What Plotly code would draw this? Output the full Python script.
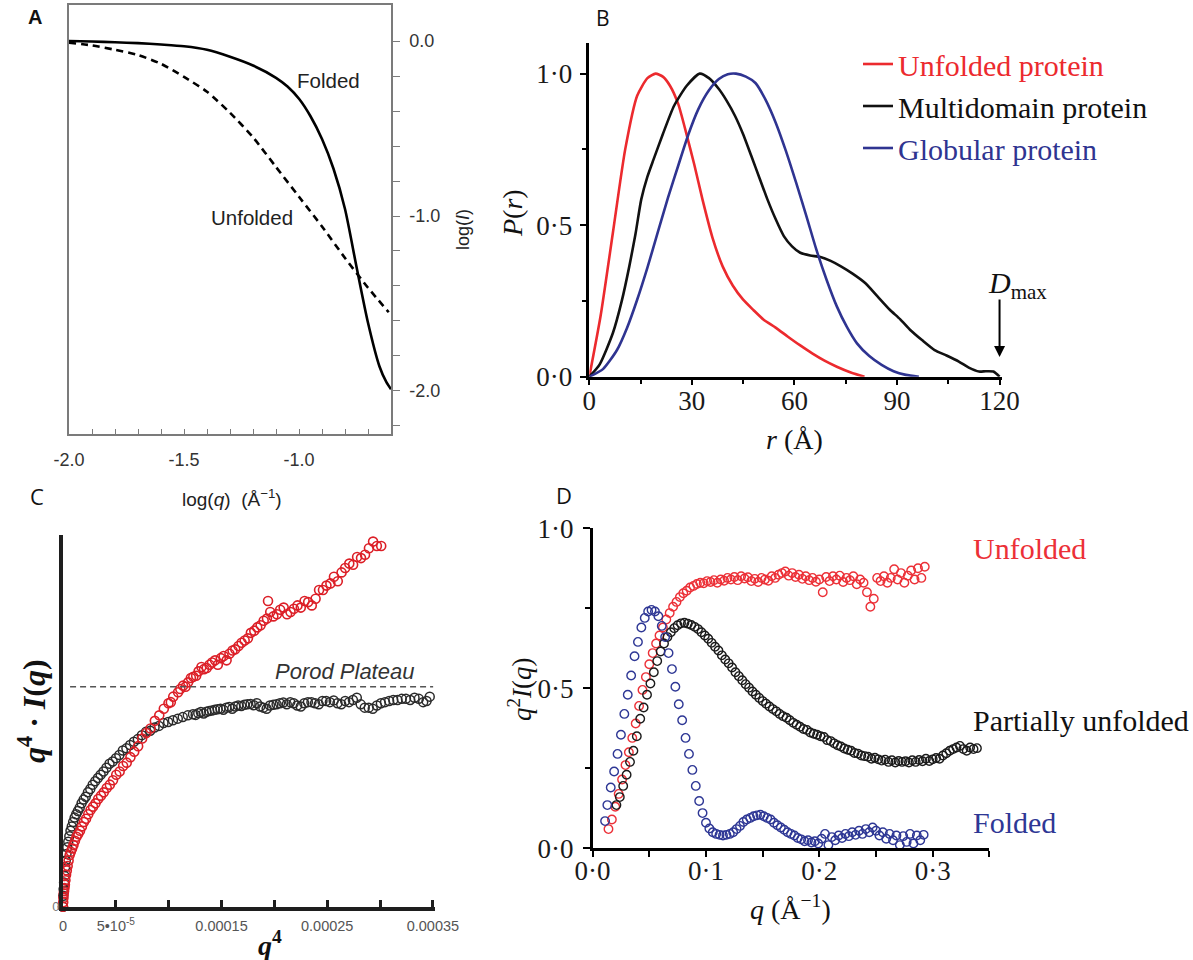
import plotly.graph_objects as go

W, H = 1193, 960
SERIF = "Liberation Serif"
SANS = "Liberation Sans"

# ---------------- Panel A : log(I) vs log(q) ----------------
A_LOGQ_FOLDED = [-2.0, -1.9, -1.8, -1.7, -1.6, -1.5, -1.4, -1.3, -1.2, -1.1, -1.05, -1.0,
                 -0.95, -0.9, -0.85, -0.8, -0.75, -0.7, -0.65, -0.62, -0.6]
A_LOGI_FOLDED = [0.0, -0.003, -0.007, -0.012, -0.02, -0.03, -0.05, -0.09, -0.14, -0.21, -0.26, -0.33,
                 -0.43, -0.56, -0.73, -0.96, -1.29, -1.61, -1.86, -1.95, -1.99]
A_LOGQ_UNFOLDED = [-2.0, -1.9, -1.8, -1.7, -1.6, -1.5, -1.4, -1.3, -1.2, -1.1, -1.0, -0.9, -0.8, -0.7, -0.61]
A_LOGI_UNFOLDED = [-0.01, -0.025, -0.05, -0.08, -0.13, -0.205, -0.29, -0.41, -0.55, -0.72, -0.89,
                   -1.06, -1.24, -1.41, -1.55]
A_XTICKS = [-2.0, -1.5, -1.0]
A_XTICKTEXT = ["-2.0", "-1.5", "-1.0"]
A_XMINOR = [-1.9, -1.8, -1.7, -1.6, -1.4, -1.3, -1.2, -1.1, -0.9, -0.8, -0.7]
A_YTICKS = [0.0, -1.0, -2.0]
A_YTICKTEXT = ["0.0", "-1.0", "-2.0"]
A_YMINOR = [-0.2, -0.4, -0.6, -0.8, -1.2, -1.4, -1.6, -1.8, -2.2]

# ---------------- Panel B : P(r) ----------------
B_R_UNFOLDED = [0, 3.3, 6.9, 10.5, 14, 17, 19.4, 21.5, 23.6, 26, 28.3, 30.7, 33.1, 36, 39, 42, 45, 48,
                51, 54.5, 58.1, 61.6, 65.2, 68.8, 72.4, 76.5, 80.5]
B_P_UNFOLDED = [0, 0.2, 0.475, 0.75, 0.927, 0.985, 1.0, 0.99, 0.96, 0.9, 0.806, 0.7, 0.585, 0.46, 0.364,
                0.3, 0.254, 0.22, 0.188, 0.162, 0.132, 0.104, 0.077, 0.053, 0.033, 0.014, 0.0]
B_R_MULTI = [0, 3, 6.9, 9.5, 11.7, 13.5, 15.2, 17, 18.8, 21.5, 24.8, 28.5, 32.3, 35, 37.9, 40.2, 42.6, 45,
             47.4, 49.8, 52.1, 54.5, 56.9, 59.3, 61.7, 64.6, 67.6, 70.6, 73.6, 77, 80.7, 84.3, 87.9, 90.9,
             93.8, 97.4, 101, 104.5, 108.1, 111, 114, 116, 118.2, 120]
B_P_MULTI = [0, 0.04, 0.144, 0.25, 0.364, 0.47, 0.585, 0.66, 0.717, 0.8, 0.894, 0.96, 1.0, 0.985, 0.949,
             0.91, 0.861, 0.8, 0.728, 0.655, 0.585, 0.52, 0.464, 0.43, 0.409, 0.4, 0.395, 0.382, 0.364,
             0.34, 0.309, 0.265, 0.221, 0.19, 0.155, 0.12, 0.088, 0.07, 0.05, 0.03, 0.017, 0.018, 0.017, 0.0]
B_R_GLOBULAR = [0, 4, 8.1, 11, 14, 17, 20, 23, 26, 29, 31.9, 35, 37.9, 40.5, 42.9, 45.8, 48.6, 51.5, 54.5,
                57.5, 60.5, 63.5, 66.4, 69.4, 72.4, 75.3, 78.3, 81.9, 85.5, 89, 92.6, 96.4]
B_P_GLOBULAR = [0, 0.025, 0.088, 0.16, 0.254, 0.36, 0.475, 0.59, 0.696, 0.8, 0.883, 0.945, 0.982, 0.998,
                1.0, 0.99, 0.969, 0.915, 0.839, 0.745, 0.64, 0.53, 0.42, 0.32, 0.232, 0.165, 0.11, 0.068,
                0.039, 0.018, 0.006, 0.0]
B_NAMES = ["Unfolded protein", "Multidomain protein", "Globular protein"]
B_XTICKS = [0, 30, 60, 90, 120]
B_XMINOR = [15, 45, 75, 105]
B_YTICKS = [0, 0.5, 1.0]
B_YTICKTEXT = ["0\u00b70", "0\u00b75", "1\u00b70"]
B_YMINOR = [0.25, 0.75]
D_MAX = 120
D_MAX_ARROW_TIP = 0.065

# ---------------- Panel C : Porod plot (q^4 in units of 1e-6) ----------------
C_Q4_FOLDED_E6 = [0, 0.3, 0.6, 1.0, 1.5, 2.0, 2.6, 3.3, 4.1, 5.0, 6.0, 7.1, 8.3, 9.6, 11.0, 12.5, 14.1, 15.8,
                  17.6, 19.5, 21.5, 23.6, 25.8, 28.1, 30.5, 33.0, 35.6, 38.3, 41.1, 44.0, 47.0, 50.1, 53.3,
                  56.6, 60.0, 63.5, 67.1, 70.8, 74.6, 78.5, 82.5, 86.6, 90.8, 95.1, 99.5, 104, 108.6, 113.3,
                  118.1, 123, 128, 133.1, 138.3, 143.6, 149, 154.5, 160.1, 165.8, 171.6, 177.5, 183.5,
                  189.6, 195.8, 202.1, 208.5, 215, 221.6, 228.3, 235.1, 242, 249, 256.1, 263.3, 270.6, 278,
                  285.5, 293.1, 300.8, 308.6, 316.5, 324.5, 332.6, 340.8, 347,
                  125.5, 130.5, 135.7, 141, 146.3, 151.7, 157.3, 163, 168.7, 174.5, 180.5, 186.5, 192.7,
                  199, 205.3, 211.7, 218.3, 225, 231.7, 238.5, 245.5, 252.5, 259.7, 267, 274.3, 281.7,
                  289.3, 297, 304.7, 312.5, 320.5, 328.5, 336.7, 344]
C_I_FOLDED = [0.0, 0.05, 0.08, 0.11, 0.14, 0.18, 0.21, 0.24, 0.27, 0.295, 0.32, 0.345, 0.365, 0.385, 0.405,
              0.42, 0.435, 0.45, 0.47, 0.487, 0.5, 0.52, 0.535, 0.555, 0.57, 0.585, 0.6, 0.615, 0.632, 0.65,
              0.66, 0.675, 0.69, 0.71, 0.72, 0.735, 0.75, 0.762, 0.78, 0.795, 0.8, 0.815, 0.822, 0.835,
              0.84, 0.848, 0.855, 0.862, 0.87, 0.875, 0.88, 0.878, 0.89, 0.895, 0.9, 0.905, 0.9, 0.915,
              0.918, 0.922, 0.925, 0.905, 0.915, 0.92, 0.928, 0.93, 0.915, 0.925, 0.93, 0.92, 0.935, 0.938,
              0.92, 0.93, 0.95, 0.905, 0.9, 0.925, 0.935, 0.94, 0.945, 0.95, 0.93, 0.955,
              0.872, 0.885, 0.886, 0.892, 0.898, 0.895, 0.908, 0.91, 0.912, 0.92, 0.916, 0.91, 0.9,
              0.918, 0.925, 0.92, 0.925, 0.91, 0.93, 0.925, 0.935, 0.93, 0.925, 0.935, 0.94, 0.92,
              0.905, 0.915, 0.93, 0.94, 0.945, 0.94, 0.945, 0.935]
C_Q4_UNFOLDED_E6 = [0, 0.2, 0.4, 0.7, 1.0, 1.4, 1.8, 2.3, 2.9, 3.6, 4.4, 5.3, 6.3, 7.4, 8.6, 9.9, 11.3, 12.8,
                    14.4, 16.1, 17.9, 19.8, 21.8, 23.9, 26.1, 28.4, 30.8, 33.3, 35.9, 38.6, 41.4, 44.3, 47.3,
                    50.4, 53.6, 56.9, 60.3, 63.8, 67.4, 71.1, 74.9, 78.8, 82.8, 86.9, 91.1, 95.4, 99.8,
                    104.3, 108.9, 113.6, 118.4, 123.3, 128.3, 133.4, 138.6, 143.9, 149.3, 154.8, 160.4,
                    166.1, 171.9, 177.8, 183.8, 189.9, 196.1, 202.4, 208.8, 215.3, 221.9, 228.6, 235.4,
                    242.3, 249.3, 256.4, 263.6, 270.9, 278.3, 285.8, 293.4, 301.1,
                    102, 111, 116, 121, 126, 131, 136, 141, 146.5, 152, 157.5, 163, 169, 175, 181, 187,
                    193, 199, 205.5, 212, 218.5, 225, 232, 239, 246, 253, 260, 267, 274.5, 282, 289.5, 297,
                    194]
C_I_UNFOLDED = [0.0, 0.02, 0.04, 0.06, 0.07, 0.085, 0.1, 0.12, 0.145, 0.165, 0.185, 0.21, 0.235, 0.25, 0.265,
                0.28, 0.3, 0.318, 0.33, 0.345, 0.365, 0.385, 0.4, 0.42, 0.44, 0.455, 0.47, 0.49, 0.505, 0.52,
                0.54, 0.555, 0.575, 0.6, 0.615, 0.64, 0.655, 0.68, 0.705, 0.73, 0.765, 0.79, 0.81, 0.845,
                0.87, 0.9, 0.925, 0.955, 0.975, 1.005, 1.02, 1.045, 1.07, 1.08, 1.1, 1.12, 1.13, 1.12,
                1.165, 1.185, 1.21, 1.245, 1.27, 1.3, 1.34, 1.33, 1.36, 1.34, 1.37, 1.39, 1.37, 1.44, 1.46,
                1.5, 1.52, 1.56, 1.59, 1.6, 1.66, 1.64,
                0.93, 0.99, 1.0, 1.04, 1.05, 1.09, 1.085, 1.11, 1.1, 1.14, 1.15, 1.17, 1.2, 1.22, 1.255,
                1.28, 1.31, 1.32, 1.35, 1.33, 1.355, 1.36, 1.385, 1.4, 1.44, 1.47, 1.48, 1.54, 1.555,
                1.585, 1.63, 1.64,
                1.39]
C_PLATEAU = 1.0
C_XTICKS_E6 = [0, 50, 100, 150, 200, 250, 300, 350]
C_XTICKTEXT = ["0", "5\u202210<sup>-5</sup>", "", "0.00015", "", "0.00025", "", "0.00035"]

# ---------------- Panel D : Kratky plot (q in 1e-3 1/A) ----------------
D_Q_UNFOLDED_E3 = [14, 17, 20, 23, 26, 29, 32, 35, 38, 41, 44, 47, 50, 53, 56, 59, 62, 65, 68, 71, 74, 77, 80,
                   83, 86, 89, 92, 95, 98, 101, 104, 107, 110, 113, 116, 119, 122, 125, 128, 131, 134, 137,
                   140, 143, 146, 149, 152, 155, 158, 161, 164, 167, 170, 173, 176, 179, 182, 185, 188, 191,
                   194, 197, 200, 203, 206, 209, 212, 215, 218, 221, 224, 227, 230, 233, 236, 239, 242, 245,
                   248, 251, 254, 257, 260, 263, 266, 269, 272, 275, 278, 281, 284, 287, 290, 293]
D_I_UNFOLDED = [0.06, 0.09, 0.13, 0.17, 0.215, 0.26, 0.30, 0.345, 0.39, 0.445, 0.495, 0.535, 0.575, 0.61,
                0.64, 0.665, 0.69, 0.715, 0.735, 0.755, 0.77, 0.785, 0.797, 0.805, 0.815, 0.82, 0.826, 0.83,
                0.828, 0.835, 0.832, 0.838, 0.83, 0.84, 0.836, 0.845, 0.84, 0.848, 0.838, 0.85, 0.843, 0.847,
                0.835, 0.842, 0.832, 0.845, 0.84, 0.836, 0.85, 0.845, 0.855, 0.86, 0.865, 0.852, 0.86, 0.848,
                0.855, 0.842, 0.85, 0.838, 0.845, 0.833, 0.84, 0.80, 0.848, 0.835, 0.85, 0.84, 0.852, 0.832,
                0.845, 0.838, 0.85, 0.825, 0.84, 0.83, 0.80, 0.755, 0.78, 0.845, 0.835, 0.85, 0.83, 0.845,
                0.872, 0.84, 0.86, 0.83, 0.852, 0.868, 0.84, 0.875, 0.845, 0.88]
D_Q_PARTIAL_E3 = [21, 24, 27, 30, 33, 36, 39, 42, 45, 48, 51, 54, 57, 60, 63, 66, 69, 72, 75, 78, 81, 84, 87,
                  90, 93, 96, 99, 102, 105, 108, 111, 114, 117, 120, 123, 126, 129, 132, 135, 138, 141, 144,
                  147, 150, 153, 156, 159, 162, 165, 168, 171, 174, 177, 180, 183, 186, 189, 192, 195, 198,
                  201, 204, 207, 210, 213, 216, 219, 222, 225, 228, 231, 234, 237, 240, 243, 246, 249, 252,
                  255, 258, 261, 264, 267, 270, 273, 276, 279, 282, 285, 288, 291, 294, 297, 300, 303, 306,
                  309, 312, 315, 318, 321, 324, 327, 330, 333, 336, 339]
D_I_PARTIAL = [0.135, 0.16, 0.195, 0.23, 0.27, 0.305, 0.35, 0.405, 0.44, 0.48, 0.515, 0.55, 0.585, 0.615,
               0.64, 0.66, 0.675, 0.688, 0.697, 0.703, 0.705, 0.702, 0.698, 0.692, 0.685, 0.675, 0.665,
               0.655, 0.642, 0.63, 0.618, 0.603, 0.59, 0.578, 0.565, 0.55, 0.538, 0.525, 0.513, 0.502, 0.49,
               0.48, 0.47, 0.46, 0.452, 0.443, 0.435, 0.428, 0.42, 0.413, 0.408, 0.4, 0.392, 0.386, 0.38,
               0.373, 0.37, 0.362, 0.358, 0.355, 0.35, 0.348, 0.338, 0.335, 0.328, 0.322, 0.318, 0.312,
               0.308, 0.305, 0.298, 0.296, 0.29, 0.288, 0.286, 0.28, 0.283, 0.278, 0.274, 0.277, 0.27,
               0.275, 0.268, 0.273, 0.27, 0.272, 0.268, 0.275, 0.27, 0.276, 0.272, 0.28, 0.273, 0.278,
               0.282, 0.28, 0.29, 0.297, 0.305, 0.31, 0.315, 0.32, 0.31, 0.305, 0.315, 0.31, 0.313]
D_Q_FOLDED_E3 = [11, 13, 16, 19, 22, 25, 28, 31, 34, 37, 40, 43, 46, 49, 52, 55, 58, 61, 64, 67, 70, 73, 76,
                 79, 82, 85, 88, 91, 94, 97, 100, 103, 106, 109, 112, 115, 118, 121, 124, 127, 130, 133,
                 136, 139, 142, 145, 148, 151, 154, 157, 160, 163, 166, 169, 172, 175, 178, 181, 184, 187,
                 190, 193, 196, 199, 202, 205, 208, 211, 214, 217, 220, 223, 226, 229, 232, 235, 238, 241,
                 244, 247, 250, 253, 256, 259, 262, 265, 268, 271, 274, 277, 280, 283, 286, 289, 292]
D_I_FOLDED = [0.085, 0.135, 0.19, 0.24, 0.295, 0.355, 0.42, 0.48, 0.54, 0.60, 0.645, 0.69, 0.72, 0.74, 0.745,
              0.74, 0.725, 0.695, 0.66, 0.61, 0.56, 0.505, 0.45, 0.40, 0.345, 0.295, 0.245, 0.195, 0.148,
              0.11, 0.08, 0.062, 0.05, 0.045, 0.042, 0.04, 0.042, 0.045, 0.05, 0.06, 0.07, 0.082, 0.09,
              0.095, 0.1, 0.103, 0.105, 0.1, 0.095, 0.09, 0.08, 0.072, 0.065, 0.058, 0.05, 0.045, 0.04,
              0.032, 0.028, 0.022, 0.025, 0.018, 0.022, 0.015, 0.03, 0.045, 0.01, 0.035, 0.025, 0.04,
              0.032, 0.045, 0.038, 0.05, 0.042, 0.055, 0.045, 0.06, 0.05, 0.065, 0.055, 0.04, 0.05, 0.03,
              0.045, 0.025, 0.04, 0.01, 0.038, 0.02, 0.045, 0.015, 0.04, 0.025, 0.042]
D_XTICKS = [0.0, 0.1, 0.2, 0.3]
D_XTICKTEXT = ["0\u00b70", "0\u00b71", "0\u00b72", "0\u00b73"]
D_XMINOR = [0.05, 0.15, 0.25, 0.35]
D_YTICKS = [0, 0.5, 1.0]
D_YTICKTEXT = ["0\u00b70", "0\u00b75", "1\u00b70"]
D_YMINOR = [0.25, 0.75]
D_LABELS = ["Unfolded", "Partially unfolded", "Folded"]

RED_B, BLACK, BLUE_B = "#ec2a2e", "#111111", "#2f3491"
RED_C, BLACK_C = "#dc1f27", "#2b2b2b"
RED_D, BLACK_D, BLUE_D = "#ec3037", "#1b1b1b", "#2e3795"
GRAY = "#7b7b7b"


def px(x):
    return x / W


def py(y):
    return 1 - y / H


fig = go.Figure()

# Panel A traces
fig.add_trace(go.Scatter(x=A_LOGQ_FOLDED, y=A_LOGI_FOLDED, mode="lines", xaxis="x", yaxis="y",
                         line=dict(color="black", width=2.6, shape="spline", smoothing=0.7), showlegend=False))
fig.add_trace(go.Scatter(x=A_LOGQ_UNFOLDED, y=A_LOGI_UNFOLDED, mode="lines", xaxis="x", yaxis="y",
                         line=dict(color="black", width=2.6, dash="7px,5px", shape="spline", smoothing=0.7),
                         showlegend=False))

# Panel B traces
for r, p, c, n in [(B_R_UNFOLDED, B_P_UNFOLDED, RED_B, B_NAMES[0]),
                   (B_R_MULTI, B_P_MULTI, BLACK, B_NAMES[1]),
                   (B_R_GLOBULAR, B_P_GLOBULAR, BLUE_B, B_NAMES[2])]:
    fig.add_trace(go.Scatter(x=r, y=p, mode="lines", xaxis="x2", yaxis="y2",
                             line=dict(color=c, width=2.6, shape="spline", smoothing=0.6),
                             name='<span style="color:%s">%s</span>' % (c, n), showlegend=True))

# Panel C traces
fig.add_trace(go.Scatter(x=[v * 1e-6 for v in C_Q4_FOLDED_E6], y=C_I_FOLDED, mode="markers",
                         xaxis="x3", yaxis="y3", cliponaxis=False, showlegend=False,
                         marker=dict(symbol="circle-open", size=9, color=BLACK_C, line=dict(width=1.5))))
fig.add_trace(go.Scatter(x=[v * 1e-6 for v in C_Q4_UNFOLDED_E6], y=C_I_UNFOLDED, mode="markers",
                         xaxis="x3", yaxis="y3", cliponaxis=False, showlegend=False,
                         marker=dict(symbol="circle-open", size=9, color=RED_C, line=dict(width=1.6))))

# Panel D traces
for q, v, c in [(D_Q_UNFOLDED_E3, D_I_UNFOLDED, RED_D),
                (D_Q_PARTIAL_E3, D_I_PARTIAL, BLACK_D),
                (D_Q_FOLDED_E3, D_I_FOLDED, BLUE_D)]:
    fig.add_trace(go.Scatter(x=[k * 1e-3 for k in q], y=v, mode="markers", xaxis="x4", yaxis="y4",
                             cliponaxis=False, showlegend=False,
                             marker=dict(symbol="circle-open", size=8.5, color=c, line=dict(width=1.4))))

serif_tick = dict(family=SERIF, size=27, color="#1a1a1a")

fig.update_layout(
    width=W, height=H, margin=dict(l=0, r=0, t=0, b=0, pad=0, autoexpand=False),
    paper_bgcolor="white", plot_bgcolor="white",
    # ---- A ----
    xaxis=dict(domain=[px(69), px(391)], range=[-2.0, -0.6], anchor="y", showline=True, linecolor=GRAY,
               linewidth=1.5, mirror=True, ticks="inside", ticklen=5, tickcolor=GRAY, tickwidth=1.2,
               tickmode="array", tickvals=A_XTICKS, ticktext=A_XTICKTEXT,
               tickfont=dict(family=SANS, size=18, color="#333"), ticklabelstandoff=9,
               minor=dict(tickmode="array", tickvals=A_XMINOR, ticks="inside", ticklen=5, tickcolor=GRAY,
                          tickwidth=1.2),
               showgrid=False, zeroline=False),
    yaxis=dict(domain=[py(434), py(5)], range=[-2.246, 0.206], anchor="x", side="right", showline=True,
               linecolor=GRAY, linewidth=1.5, mirror=True, ticks="outside", ticklen=7, tickcolor=GRAY,
               tickwidth=1.2, tickmode="array", tickvals=A_YTICKS, ticktext=A_YTICKTEXT,
               tickfont=dict(family=SANS, size=18, color="#333"), ticklabelstandoff=6,
               minor=dict(tickmode="array", tickvals=A_YMINOR, ticks="outside", ticklen=7, tickcolor=GRAY,
                          tickwidth=1.2),
               showgrid=False, zeroline=False),
    # ---- B ----
    xaxis2=dict(domain=[px(589.3), px(1001.6)], range=[0, 120.6], anchor="y2", showline=True,
                linecolor="black", linewidth=2.5, ticks="outside", ticklen=6, tickwidth=2, tickcolor="black",
                tickmode="array", tickvals=B_XTICKS, tickfont=serif_tick, ticklabelstandoff=-8,
                minor=dict(tickmode="array", tickvals=B_XMINOR, ticks="outside", ticklen=5, tickwidth=2,
                           tickcolor="black"),
                showgrid=False, zeroline=False),
    yaxis2=dict(domain=[py(376.7), py(43.3)], range=[0, 1.1], anchor="x2", showline=True, linecolor="black",
                linewidth=2.5, ticks="outside", ticklen=7, tickwidth=2, tickcolor="black", tickmode="array",
                tickvals=B_YTICKS, ticktext=B_YTICKTEXT, tickfont=serif_tick, ticklabelstandoff=2,
                minor=dict(tickmode="array", tickvals=B_YMINOR, ticks="outside", ticklen=5, tickwidth=2,
                           tickcolor="black"),
                showgrid=False, zeroline=False),
    # ---- C ----
    xaxis3=dict(domain=[px(63), px(435)], range=[0, 3.52e-4], anchor="y3", showline=True, linecolor="#1e1e1e",
                linewidth=4, ticks="inside", ticklen=7, tickwidth=2.5, tickcolor="#1e1e1e", tickmode="array",
                tickvals=[v * 1e-6 for v in C_XTICKS_E6], ticktext=C_XTICKTEXT,
                tickfont=dict(family=SANS, size=14.5, color="#555"), ticklabelstandoff=3,
                showgrid=False, zeroline=False),
    yaxis3=dict(domain=[py(906.7), py(535)], range=[0, 1.69], anchor="x3", showline=True, linecolor="#1e1e1e",
                linewidth=4, ticks="", tickmode="array", tickvals=[0], ticktext=["0"],
                tickfont=dict(family=SANS, size=13, color="#777"), ticklabelstandoff=-3,
                showgrid=False, zeroline=False),
    # ---- D ----
    xaxis4=dict(domain=[px(592.6), px(989.4)], range=[0, 0.35], anchor="y4", showline=True, linecolor="black",
                linewidth=2.5, ticks="outside", ticklen=6, tickwidth=2, tickcolor="black", tickmode="array",
                tickvals=D_XTICKS, ticktext=D_XTICKTEXT, tickfont=serif_tick, ticklabelstandoff=-9,
                minor=dict(tickmode="array", tickvals=D_XMINOR, ticks="outside", ticklen=6, tickwidth=2,
                           tickcolor="black"),
                showgrid=False, zeroline=False),
    yaxis4=dict(domain=[py(848.3), py(528.3)], range=[0, 1.0], anchor="x4", showline=True, linecolor="black",
                linewidth=2.5, ticks="outside", ticklen=7, tickwidth=2, tickcolor="black", tickmode="array",
                tickvals=D_YTICKS, ticktext=D_YTICKTEXT, tickfont=serif_tick, ticklabelstandoff=4,
                minor=dict(tickmode="array", tickvals=D_YMINOR, ticks="outside", ticklen=5, tickwidth=2,
                           tickcolor="black"),
                showgrid=False, zeroline=False),
    legend=dict(x=px(858), y=py(38), xanchor="left", yanchor="top", bgcolor="rgba(0,0,0,0)",
                font=dict(family=SERIF, size=30, color="#111"), tracegroupgap=0, itemwidth=30),
)

# Porod plateau dashed reference line
fig.add_shape(type="line", xref="x3 domain", yref="y3", x0=0.019, x1=0.995, y0=C_PLATEAU, y1=C_PLATEAU,
              line=dict(color="#555", width=1.5, dash="6px,4px"))


def ann(text, x, y, size, family=SANS, color="#111", angle=0, xanchor="center"):
    fig.add_annotation(text=text, x=px(x), y=py(y), xref="paper", yref="paper", showarrow=False,
                       xanchor=xanchor, yanchor="middle", textangle=angle,
                       font=dict(family=family, size=size, color=color))


# panel letters
ann("<b>A</b>", 35, 17, 20, family=SANS, color="#111")
ann("B", 603, 18, 21, family="Open Sans", color="#111")
ann("C", 37, 496, 22, family="Open Sans", color="#111")
ann("D", 564, 495, 22, family="Open Sans", color="#111")

# Panel A texts
ann("Folded", 328, 80, 20.5, color="#222")
ann("Unfolded", 252, 217, 20.5, color="#222")
ann("log(<i>q</i>)\u00a0\u00a0(\u00c5<sup>\u22121</sup>)", 232, 498, 19, color="#222")
ann("log(<i>I</i>)", 463, 230, 18, color="#222", angle=-90)

# Panel B texts
ann("<i>P</i>(<i>r</i>)", 512, 213, 28, family=SERIF, angle=-90)
ann("<i>r</i> (\u00c5)", 794, 440, 28, family=SERIF)
ann("<i>D</i><sub>max</sub>", 1017, 285, 30, family=SERIF)
fig.add_annotation(x=D_MAX, y=D_MAX_ARROW_TIP, xref="x2", yref="y2", ax=0, ay=-59, text="",
                   showarrow=True, arrowhead=2, arrowsize=1.1, arrowwidth=2, arrowcolor="black")

# Panel C texts
ann("<b><i>q</i><sup>4</sup> \u00b7 <i>I</i>(<i>q</i>)</b>", 32, 711, 32, family=SERIF, angle=-90)
ann("<b><i>q</i><sup>4</sup></b>", 270, 943, 28, family=SERIF)
ann("<i>Porod Plateau</i>", 344.5, 671, 22, family=SANS, color="#333")

# Panel D texts
ann("<i>q</i><sup>2</sup><i>I</i>(<i>q</i>)", 520, 690, 27, family=SERIF, angle=-90)
ann("<i>q</i> (\u00c5<sup>\u22121</sup>)", 790, 907, 28, family=SERIF)
ann(D_LABELS[0], 971, 548, 30, family=SERIF, color=RED_D, xanchor="left")
ann(D_LABELS[1], 971, 720, 30, family=SERIF, color="#111", xanchor="left")
ann(D_LABELS[2], 971, 822, 30, family=SERIF, color=BLUE_D, xanchor="left")

fig.write_html("out.html")
